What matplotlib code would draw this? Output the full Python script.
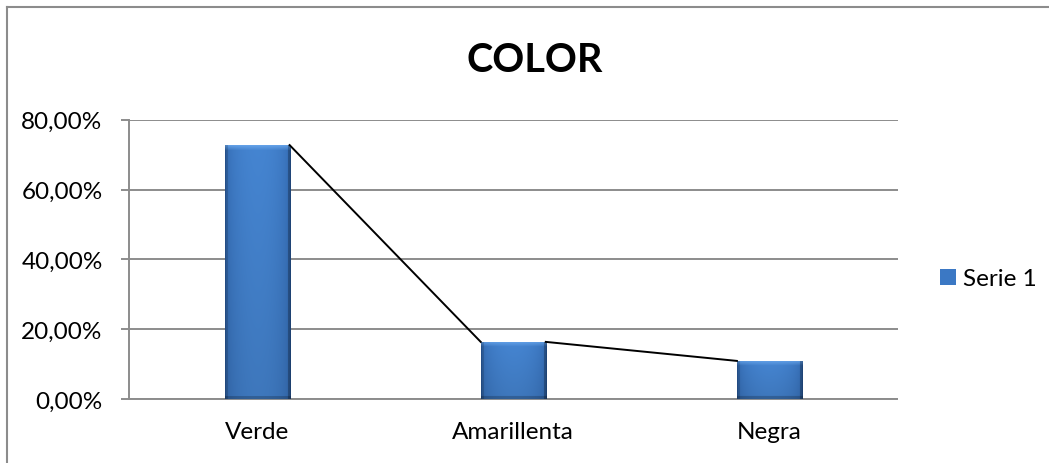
import numpy as np
import matplotlib.pyplot as plt
from matplotlib.lines import Line2D
from matplotlib.ticker import FuncFormatter

# Color distribution
categorias = ["Verde", "Amarillenta", "Negra"]
porcentajes = [72.73, 16.36, 10.91]
serie = "Serie 1"
titulo = "COLOR"

plt.rcParams['font.family'] = ['Lato', 'DejaVu Sans']

fig = plt.figure(figsize=(10.49, 4.64), dpi=100)
ax = fig.add_axes([129/1049, 64/464, (897.5-129)/1049, (400-120.7)/464])

x = np.arange(len(categorias))
ancho = 0.254
barras = ax.bar(x, porcentajes, width=ancho, color='#3b78c4', edgecolor='none',
                zorder=3, label=serie)

# bevel shading on each bar
dark = np.array([0.17, 0.37, 0.64])
light = np.array([0.27, 0.52, 0.82])
for rect in barras:
    x0, y0 = rect.get_x(), rect.get_y()
    w, h = rect.get_width(), rect.get_height()
    ny = max(int(h / 80 * 280), 12)
    nx = 65
    t = np.linspace(0, 1, nx)
    prof = np.sin(np.pi * t) ** 0.35
    row = dark + (light - dark) * prof[:, None]
    img = np.repeat(row[None, :, :], ny, axis=0)
    # slight darkening toward the base
    img *= np.linspace(1.0, 0.9, ny)[:, None, None]
    b = 5
    top = np.array([0.42, 0.66, 0.93])
    for k in range(b):
        a = 1 - k / b
        img[k] = img[k] * (1 - 0.8 * a) + top * 0.8 * a
    img[-3:] *= 0.8
    img[:, :3] *= 0.85
    img[:, -3:] *= 0.75
    im = ax.imshow(np.clip(img, 0, 1), extent=[x0, x0 + w, y0, y0 + h],
                   aspect='auto', zorder=3, interpolation='bilinear')
    im.set_clip_path(rect)

# series lines between bar tops
for i in range(len(x) - 1):
    ax.plot([x[i] + ancho / 2, x[i + 1] - ancho / 2],
            [porcentajes[i], porcentajes[i + 1]], color='black', lw=1.4, zorder=4)

ax.set_xlim(-0.5, len(x) - 0.5)
ax.set_ylim(0, 80)
ax.set_yticks([0, 20, 40, 60, 80])
ax.yaxis.set_major_formatter(FuncFormatter(lambda v, p: f"{v:.2f}%".replace('.', ',')))
ax.set_xticks(x)
ax.set_xticklabels(categorias)
ax.grid(axis='y', color='#8c8c8c', lw=1.4, zorder=1)
ax.set_axisbelow(True)

for s in ['top', 'right']:
    ax.spines[s].set_visible(False)
for s in ['left', 'bottom']:
    ax.spines[s].set_color('#8c8c8c')
    ax.spines[s].set_linewidth(1.4)
ax.tick_params(axis='y', length=6, width=1.4, color='#8c8c8c', pad=13, labelsize=17.5)
ax.tick_params(axis='x', length=0, pad=16, labelsize=17.5)

fig.text(535/1049, 1 - 60/464, titulo, ha='center', va='center',
         fontsize=28.5, fontweight='bold')

ax.legend(handles=[barras], labels=[serie], loc='center left',
          bbox_to_anchor=(940/1049, 1 - 280/464), bbox_transform=fig.transFigure,
          frameon=False, borderpad=0, borderaxespad=0, handlelength=0.65,
          handleheight=0.65, handletextpad=0.3, fontsize=17.5)

# chart border (top and left edges)
fig.add_artist(Line2D([7/1049, 1], [1 - 8/464, 1 - 8/464], color='#8c8c8c', lw=1.5,
                      transform=fig.transFigure))
fig.add_artist(Line2D([7/1049, 7/1049], [0, 1 - 8/464], color='#8c8c8c', lw=1.5,
                      transform=fig.transFigure))

fig.savefig("out.png", dpi=100)
plt.close(fig)
